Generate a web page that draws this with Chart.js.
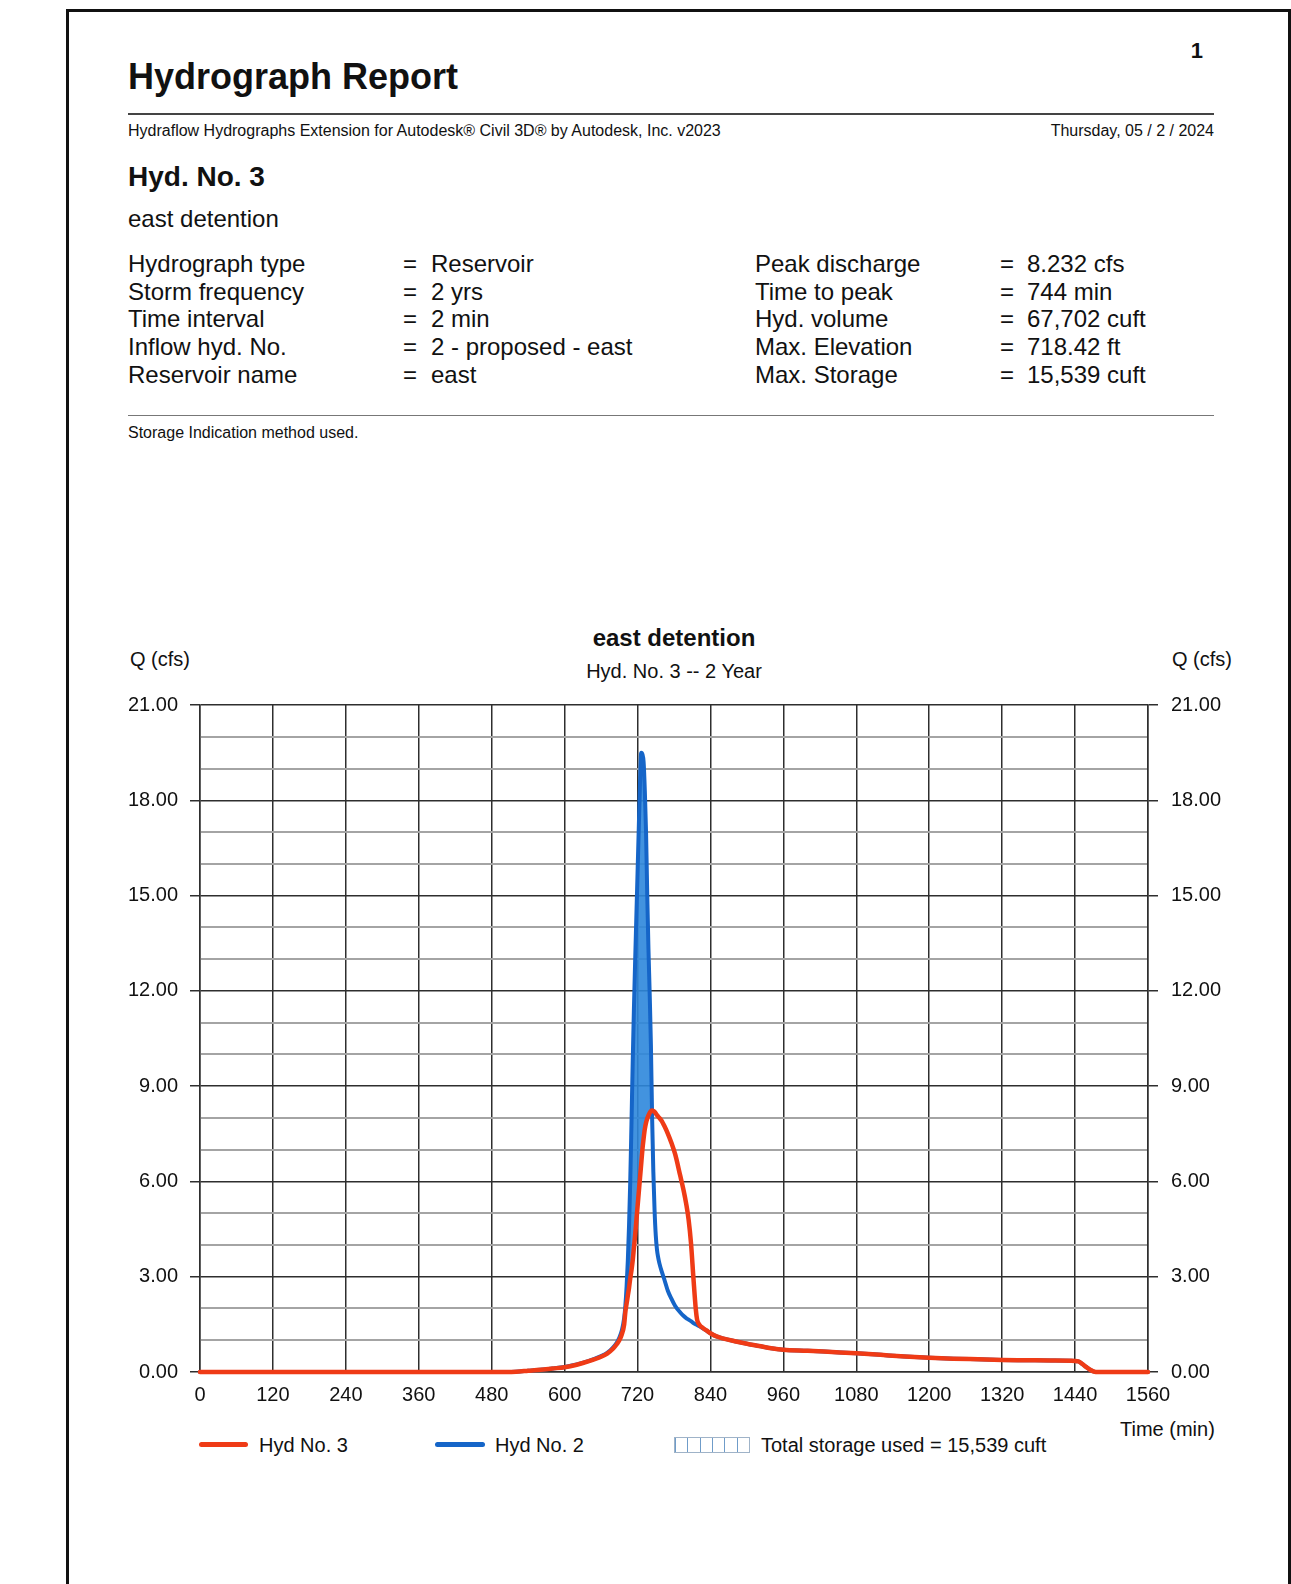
<!DOCTYPE html>
<html>
<head>
<meta charset="utf-8">
<title>Hydrograph Report</title>
<script src="https://cdn.jsdelivr.net/npm/chart.js"></script>
<style>
    body { margin: 0; background: #fff; font-family: "Liberation Sans", Arial, sans-serif; color: #111; }
    #page { position: relative; width: 1291px; height: 1584px; overflow: hidden; background: #fff; }
    #frame { position: absolute; left: 66px; top: 9px; width: 1219px; height: 1600px; border: 3px solid #111; }
    .t { position: absolute; white-space: nowrap; line-height: 1; }
    .b { font-weight: bold; }
    .rule { position: absolute; left: 128px; width: 1086px; }
    .leg-line { position: absolute; height: 5px; border-radius: 3px; }
    #storageIcon {
        position: absolute; left: 674px; top: 1437px; width: 74px; height: 14px;
        border: 1px solid #9fb3c8;
        background: repeating-linear-gradient(90deg, #6f9cc9 0, #6f9cc9 1px, #fff 1px, #fff 12.33px);
    }
    #chartBox { position: absolute; left: 110px; top: 680px; width: 1140px; height: 730px; }
</style>
</head>
<body>
<div id="page">
    <div id="frame"></div>

    <div class="t b" style="right:88px; top:40px; font-size:22px;">1</div>
    <div class="t b" style="left:128px; top:59px; font-size:36px;">Hydrograph Report</div>
    <div class="rule" style="top:113px; height:2px; background:#444;"></div>
    <div class="t" style="left:128px; top:123px; font-size:16px;">Hydraflow Hydrographs Extension for Autodesk® Civil 3D® by Autodesk, Inc. v2023</div>
    <div class="t" style="right:77px; top:123px; font-size:16px;">Thursday, 05 / 2 / 2024</div>

    <div class="t b" style="left:128px; top:163px; font-size:28px;">Hyd. No. 3</div>
    <div class="t" style="left:128px; top:207px; font-size:24px;">east detention</div>

    <div id="infoTable"></div>

    <div class="rule" style="top:415px; height:1px; background:#777;"></div>
    <div class="t" style="left:128px; top:425px; font-size:16px;">Storage Indication method used.</div>

    <div class="t b" style="left:674px; top:626px; font-size:24px; transform:translateX(-50%);">east detention</div>
    <div class="t" style="left:674px; top:661px; font-size:20px; transform:translateX(-50%);">Hyd. No. 3 -- 2 Year</div>
    <div class="t" style="left:130px; top:649px; font-size:20px;">Q (cfs)</div>
    <div class="t" style="left:1172px; top:649px; font-size:20px;">Q (cfs)</div>

    <div id="chartBox"><canvas id="chart" width="1140" height="730"></canvas></div>

    <div class="t" style="left:1120px; top:1419px; font-size:20px;">Time (min)</div>

    <div class="leg-line" style="left:199px; top:1442px; width:49px; background:#ef3b16;"></div>
    <div class="t" style="left:259px; top:1435px; font-size:20px;">Hyd No. 3</div>
    <div class="leg-line" style="left:435px; top:1442px; width:50px; background:#1565c8;"></div>
    <div class="t" style="left:495px; top:1435px; font-size:20px;">Hyd No. 2</div>
    <div id="storageIcon"></div>
    <div class="t" style="left:761px; top:1435px; font-size:20px;">Total storage used = 15,539 cuft</div>
</div>

<script>
//Werte aus dem Bericht
var infoLeftLabels = ["Hydrograph type", "Storm frequency", "Time interval", "Inflow hyd. No.", "Reservoir name"];
var infoLeftValues = ["Reservoir", "2 yrs", "2 min", "2 - proposed - east", "east"];
var infoRightLabels = ["Peak discharge", "Time to peak", "Hyd. volume", "Max. Elevation", "Max. Storage"];
var infoRightValues = ["8.232 cfs", "744 min", "67,702 cuft", "718.42 ft", "15,539 cuft"];

//Zeit (min)
var times = [0, 480, 520, 540, 560, 580, 600, 620, 640, 660, 670, 680, 686, 690, 694, 698,
    700, 702, 704, 706, 708, 710, 712, 714, 716, 718, 720, 722, 724, 726, 728, 730, 732, 734,
    736, 738, 740, 742, 744, 746, 748, 750, 752, 754, 756, 760, 764, 770, 776, 782, 790, 796,
    800, 804, 808, 812, 816, 818, 822, 828, 834, 840, 850, 860, 880, 900, 920, 940, 960, 1000,
    1040, 1080, 1120, 1160, 1200, 1240, 1280, 1320, 1360, 1400, 1440, 1446, 1452, 1458, 1464,
    1470, 1474, 1480, 1560];
//Hyd No. 3 (Abfluss, cfs)
var hydNo3 = [0, 0, 0.01, 0.04, 0.07, 0.11, 0.15, 0.23, 0.34, 0.48, 0.58, 0.74, 0.88, 1.0, 1.18, 1.5,
    1.9, 2.15, 2.4, 2.65, 2.95, 3.2, 3.5, 3.9, 4.3, 4.75, 5.2, 5.65, 6.1, 6.55, 7.0, 7.35, 7.65, 7.85,
    7.98, 8.08, 8.16, 8.21, 8.232, 8.22, 8.19, 8.14, 8.09, 8.04, 8.0, 7.9, 7.75, 7.5, 7.2, 6.85, 6.2, 5.7,
    5.3, 4.8, 4.05, 2.95, 1.95, 1.65, 1.48, 1.38, 1.3, 1.22, 1.12, 1.06, 0.97, 0.89, 0.82, 0.75, 0.70, 0.67,
    0.63, 0.59, 0.54, 0.49, 0.45, 0.42, 0.40, 0.38, 0.37, 0.36, 0.35, 0.33, 0.25, 0.16, 0.08,
    0.02, 0, 0, 0];
//Hyd No. 2 (Zufluss, cfs)
var hydNo2 = [0, 0, 0.01, 0.04, 0.07, 0.11, 0.16, 0.24, 0.35, 0.5, 0.6, 0.78, 0.93, 1.08, 1.3, 1.7,
    2.1, 2.7, 3.5, 4.6, 6.0, 7.8, 9.7, 11.4, 12.9, 14.3, 15.7, 17.1, 18.5, 19.5, 19.45, 19.2, 18.3, 17.0,
    15.0, 13.3, 11.9, 10.3, 8.0, 6.3, 5.1, 4.3, 3.85, 3.6, 3.42, 3.15, 2.92, 2.55, 2.3, 2.08, 1.88, 1.76,
    1.7, 1.65, 1.6, 1.54, 1.5, 1.48, 1.44, 1.37, 1.3, 1.22, 1.12, 1.06, 0.97, 0.89, 0.82, 0.75, 0.70, 0.67,
    0.63, 0.59, 0.54, 0.49, 0.45, 0.42, 0.40, 0.38, 0.37, 0.36, 0.35, 0.33, 0.25, 0.16, 0.08,
    0.02, 0, 0, 0];

var rot = "#ef3b16";
var blau = "#1565c8";
var blauFlaeche = "rgba(45, 135, 220, 0.9)";
var dunkel = "#2e2e2e";
var grau = "#a4a4a4";

//Tabelle oben
var rowTops = [252, 280, 307, 335, 363];
var table = document.getElementById("infoTable");
function addText(txt, left, top) {
    var d = document.createElement("div");
    d.className = "t";
    d.style.left = left + "px";
    d.style.top = top + "px";
    d.style.fontSize = "24px";
    d.textContent = txt;
    table.appendChild(d);
}
for (var i = 0; i < infoLeftLabels.length; i++) {
    addText(infoLeftLabels[i], 128, rowTops[i]);
    addText("=", 403, rowTops[i]);
    addText(infoLeftValues[i], 431, rowTops[i]);
    addText(infoRightLabels[i], 755, rowTops[i]);
    addText("=", 1000, rowTops[i]);
    addText(infoRightValues[i], 1027, rowTops[i]);
}

function punkte(werte) {
    return times.map((t, i) => ({ x: t, y: werte[i] }));
}

var tickFont = { family: "'Liberation Sans', Arial, sans-serif", size: 20 };

var myChart = new Chart(document.getElementById("chart"), {
    type: 'line',
    data: {
        datasets: [{
            label: 'Hyd No. 3',
            data: punkte(hydNo3),
            borderColor: rot,
            borderWidth: 4.5,
            pointRadius: 0,
            cubicInterpolationMode: 'monotone',
            borderCapStyle: 'round',
            borderJoinStyle: 'round',
            fill: false,
            clip: 8,
            yAxisID: 'y'
        }, {
            label: 'Hyd No. 2',
            data: punkte(hydNo2),
            borderColor: blau,
            borderWidth: 4,
            pointRadius: 0,
            cubicInterpolationMode: 'monotone',
            borderCapStyle: 'round',
            borderJoinStyle: 'round',
            fill: { target: 0, above: blauFlaeche, below: 'rgba(0,0,0,0)' },
            clip: 8,
            yAxisID: 'y'
        }]
    },
    options: {
        responsive: false,
        animation: false,
        layout: { padding: { top: 14, left: 0, right: 0, bottom: 0 } },
        plugins: {
            legend: { display: false },
            tooltip: { enabled: false },
            title: { display: false }
        },
        scales: {
            x: {
                type: 'linear',
                min: 0,
                max: 1560,
                ticks: {
                    stepSize: 120,
                    autoSkip: false,
                    maxRotation: 0,
                    padding: 11,
                    color: '#111',
                    font: tickFont,
                    callback: v => String(v)
                },
                grid: { color: dunkel, lineWidth: 1.5, drawTicks: false },
                border: { display: true, color: dunkel, width: 1.5 },
                afterFit: function (s) { s.height = 38; }
            },
            y: {
                position: 'left',
                min: 0,
                max: 21,
                ticks: {
                    stepSize: 1,
                    autoSkip: false,
                    padding: 12,
                    color: '#111',
                    font: tickFont,
                    callback: v => (v % 3 === 0 ? v.toFixed(2) : '')
                },
                grid: {
                    color: c => (c.tick && c.tick.value % 3 === 0 ? dunkel : grau),
                    lineWidth: c => (c.tick && c.tick.value % 3 === 0 ? 1.5 : 2),
                    tickColor: c => (c.tick && c.tick.value % 3 === 0 ? dunkel : 'rgba(0,0,0,0)'),
                    tickLength: 10
                },
                border: { display: true, color: dunkel, width: 1.5 },
                afterFit: function (s) { s.width = 90; }
            },
            y2: {
                position: 'right',
                min: 0,
                max: 21,
                ticks: {
                    stepSize: 1,
                    autoSkip: false,
                    padding: 13,
                    color: '#111',
                    font: tickFont,
                    callback: v => (v % 3 === 0 ? v.toFixed(2) : '')
                },
                grid: {
                    drawOnChartArea: false,
                    tickColor: c => (c.tick && c.tick.value % 3 === 0 ? dunkel : 'rgba(0,0,0,0)'),
                    tickLength: 10,
                    lineWidth: 1.5
                },
                border: { display: true, color: dunkel, width: 1.5 },
                afterFit: function (s) { s.width = 102; }
            }
        }
    }
});
</script>
</body>
</html>
